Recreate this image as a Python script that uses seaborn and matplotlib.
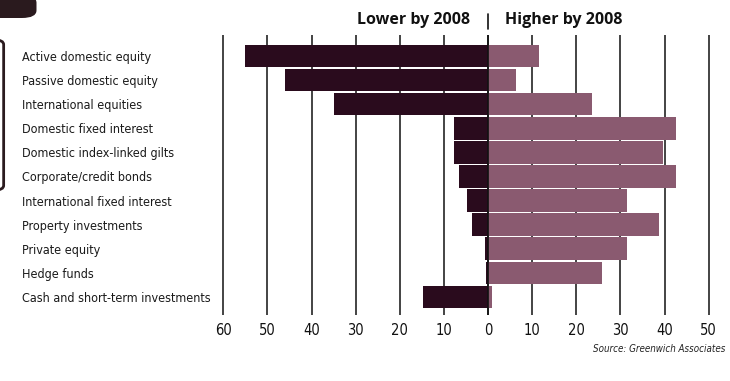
import matplotlib
matplotlib.use("Agg")
import matplotlib.pyplot as plt
import seaborn as sns
import pandas as pd
from matplotlib.patches import FancyBboxPatch
from matplotlib.lines import Line2D

categories = [
    "Active domestic equity",
    "Passive domestic equity",
    "International equities",
    "Domestic fixed interest",
    "Domestic index-linked gilts",
    "Corporate/credit bonds",
    "International fixed interest",
    "Property investments",
    "Private equity",
    "Hedge funds",
    "Cash and short-term investments",
]
lower_by_2008 = [55, 46, 35, 7.7, 7.7, 6.5, 4.7, 3.7, 0.7, 0.5, 14.7]
higher_by_2008 = [11.5, 6.3, 23.6, 42.6, 39.7, 42.7, 31.6, 38.8, 31.5, 25.8, 1.0]
tick_values = [-60, -50, -40, -30, -20, -10, 0, 10, 20, 30, 40, 50]
tick_labels = ["60", "50", "40", "30", "20", "10", "0", "10", "20", "30", "40", "50"]

dark = "#2a0b1d"
mauve = "#8a5a70"

sns.set_style("white")
plt.rcParams["font.family"] = ["DejaVu Sans"]
plt.rcParams["font.stretch"] = "condensed"

df = pd.DataFrame({
    "category": categories,
    "lower": [-v for v in lower_by_2008],
    "higher": higher_by_2008,
})

fig = plt.figure(figsize=(7.30, 3.81), dpi=100)
W, H = 730, 381
ax = fig.add_axes([222 / W, 1 - 315 / H, (710 - 222) / W, (315 - 35) / H])

sns.barplot(data=df, x="lower", y="category", orient="h", color=dark,
            width=0.94, saturation=1, ax=ax, edgecolor="none")
sns.barplot(data=df, x="higher", y="category", orient="h", color=mauve,
            width=0.94, saturation=1, ax=ax, edgecolor="none")

ax.set_xlim(-60.3, 50.3)
ax.set_ylim(10.75, -0.87)
ax.set_xticks(tick_values)
ax.set_xticklabels(tick_labels, fontsize=10.5, color="#111111")
ax.tick_params(axis="x", length=0, pad=6)
ax.set_xlabel("")
ax.set_ylabel("")
ax.set_axisbelow(True)
ax.grid(axis="x", color="#111111", linewidth=1.1)
ax.grid(axis="y", visible=False)
for s in ax.spines.values():
    s.set_visible(False)

ax.set_yticks(range(len(categories)))
ax.set_yticklabels(categories, fontsize=9.0, color="#1a1a1a", ha="left")
ax.tick_params(axis="y", length=0, pad=144)

# zero line on top
ax.axvline(0, color="#111111", linewidth=1.2, zorder=5)

# headers
fig.text(470 / W, 1 - 20 / H, "Lower by 2008", ha="right", va="center",
         fontsize=11.5, fontweight="bold", family=["Open Sans", "DejaVu Sans"],
         stretch="normal", color="#111111")
fig.text(505 / W, 1 - 20 / H, "Higher by 2008", ha="left", va="center",
         fontsize=11.5, fontweight="bold", family=["Open Sans", "DejaVu Sans"],
         stretch="normal", color="#111111")
fig.add_artist(Line2D([488 / W, 488 / W], [1 - 14 / H, 1 - 29 / H], color="#111111",
                      linewidth=1.2, transform=fig.transFigure))

# source
fig.text(725 / W, 1 - 349 / H, "Source: Greenwich Associates", ha="right", va="center",
         fontsize=7, style="italic", color="#222222")

# decorative dark marks at the left
fig.add_artist(FancyBboxPatch((-0.02, 1 - 18 / H), 0.07, 0.06,
                              boxstyle="round,pad=0,rounding_size=0.02",
                              facecolor="#2a1a1e", edgecolor="none",
                              transform=fig.transFigure))
fig.add_artist(FancyBboxPatch((-0.02, 1 - 190 / H), 0.025, 150 / H,
                              boxstyle="round,pad=0,rounding_size=0.012",
                              facecolor="none", edgecolor="#2a1a1e", linewidth=2,
                              transform=fig.transFigure))

fig.savefig("out.png", dpi=100)
